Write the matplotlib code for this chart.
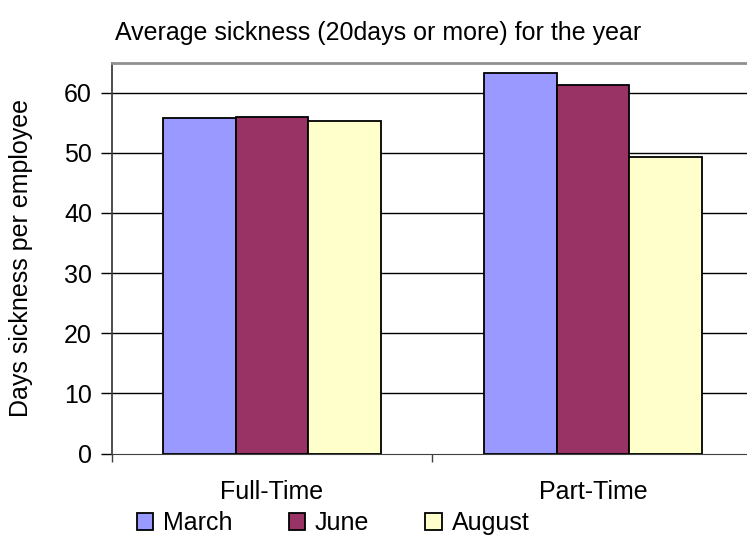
import numpy as np
import matplotlib.pyplot as plt

plt.rcParams['font.family'] = ['Liberation Sans', 'DejaVu Sans']

categories = ['Full-Time', 'Part-Time']
series_names = ['March', 'June', 'August']
march = [55.7, 63.3]
june = [56.0, 61.3]
august = [55.3, 49.3]
colors = ['#9999FF', '#993366', '#FFFFCC']

fig = plt.figure(figsize=(7.47, 5.4), dpi=100)
ax = fig.add_axes([111.5 / 747, 1 - 453.5 / 540, 1 - 111.5 / 747, (453.5 - 62.5) / 540])

x = np.arange(len(categories))
width = 0.226
handles = []
for i, (vals, name) in enumerate(zip([march, june, august], series_names)):
    b = ax.bar(x + (i - 1) * width, vals, width, color=colors[i],
               edgecolor='black', linewidth=1.3, label=name, zorder=3)
    handles.append(b)

ax.set_ylim(0, 65)
ax.set_xlim(-0.5, 1.48)
ax.set_yticks(range(0, 70, 10))
for yv in range(10, 70, 10):
    ax.axhline(yv, color='black', linewidth=1.0, zorder=1)

fs = 18
ax.set_xticks([-0.5, 0.5])
ax.set_xticklabels([])
ax.set_xticks(x, minor=True)
ax.set_xticklabels(categories, minor=True, fontsize=fs)
ax.tick_params(axis='x', which='minor', length=0, pad=19)
ax.tick_params(axis='x', which='major', direction='out', length=6, width=1, colors='#404040')
ax.tick_params(axis='y', direction='out', length=8, width=1, labelsize=fs, pad=6)

ax.spines['right'].set_visible(False)
ax.spines['top'].set_color('#909090')
ax.spines['top'].set_linewidth(2)
ax.spines['left'].set_color('#404040')
ax.spines['left'].set_linewidth(1.3)
ax.spines['bottom'].set_color('#404040')

ax.set_ylabel('Days sickness per employee', fontsize=fs)
ax.yaxis.set_label_coords(-78 / 635.5, 0.5)
fig.text(378 / 747, 1 - 33 / 540, 'Average sickness (20days or more) for the year',
         ha='center', va='center', fontsize=fs)

fig.legend(handles=handles, labels=series_names, loc='center',
           bbox_to_anchor=(333 / 747, 1 - 523 / 540), ncol=3, frameon=False,
           fontsize=fs, handlelength=0.65, handleheight=0.65, columnspacing=2.25,
           handletextpad=0.4)

plt.savefig('out.png', dpi=100)
